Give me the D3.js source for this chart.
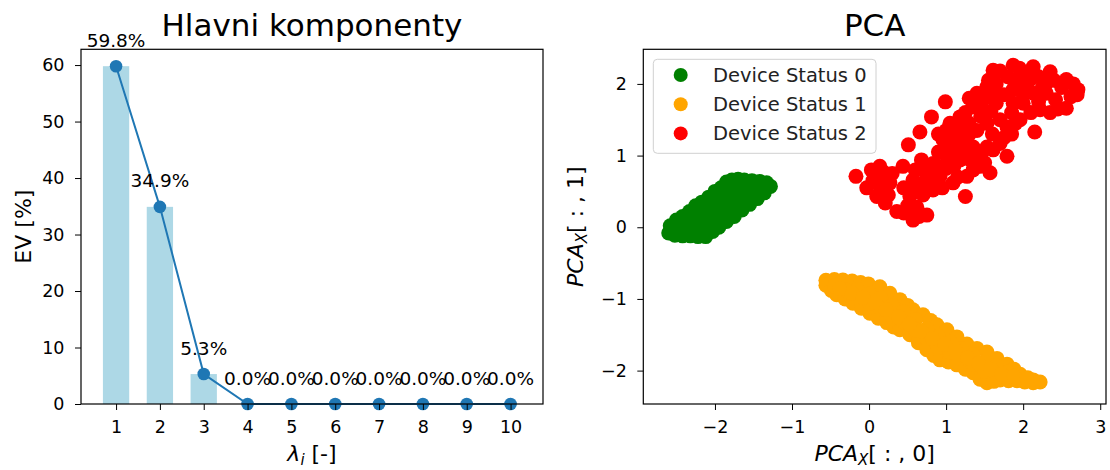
<!DOCTYPE html>
<html>
<head>
<meta charset="utf-8">
<script src="https://cdn.jsdelivr.net/npm/d3@7"></script>
<style>
  body { margin: 0; background: #fff; }
  text { font-family: "DejaVu Sans", sans-serif; fill: #000; }
</style>
</head>
<body>
<div id="container"></div>
<script>
// --- data ---
const components = [1, 2, 3, 4, 5, 6, 7, 8, 9, 10]
const evValues = [59.8, 34.9, 5.3, 0.0, 0.0, 0.0, 0.0, 0.0, 0.0, 0.0]
const evTicks = [0, 10, 20, 30, 40, 50, 60]
const pcaTicksX = [-2, -1, 0, 1, 2, 3]
const pcaTicksY = [-2, -1, 0, 1, 2]
const statusNames = ["Device Status 0", "Device Status 1", "Device Status 2"]
const statusColors = ["green", "orange", "red"]

const status0 = [
	[-2.58, 0.02], [-2.5, 0.1], [-2.42, 0.15], [-2.33, 0.22], [-2.25, 0.3], [-2.17, 0.35], [-2.08, 0.42], [-2.0, 0.5], [-1.92, 0.55], [-1.85, 0.63], [-1.78, 0.66],
	[-1.70, 0.67], [-1.62, 0.66], [-1.52, 0.65], [-1.42, 0.64], [-1.33, 0.62], [-1.28, 0.57],
	[-2.12, -0.13], [-2.03, -0.06], [-1.95, 0.0], [-1.85, 0.08], [-1.75, 0.15], [-1.65, 0.24], [-1.55, 0.32], [-1.45, 0.40], [-1.36, 0.48],
	[-2.60, -0.08], [-2.52, -0.11], [-2.42, -0.12], [-2.32, -0.12], [-2.22, -0.13],
	[-2.45, -0.03], [-2.35, 0.05], [-2.25, 0.12], [-2.15, 0.2], [-2.05, 0.27], [-1.95, 0.34], [-1.85, 0.42], [-1.75, 0.5], [-1.65, 0.57], [-1.55, 0.6],
	[-2.3, -0.08], [-2.2, -0.02], [-2.1, 0.06], [-2.0, 0.14], [-1.9, 0.2], [-1.8, 0.28], [-1.7, 0.36], [-1.6, 0.43], [-1.5, 0.5], [-1.4, 0.55],
]
const status1 = [
	[-0.56, -0.74], [-0.45, -0.73], [-0.34, -0.735], [-0.22, -0.75], [-0.11, -0.77], [-0.01, -0.79], [0.14, -0.83], [0.27, -0.92], [0.40, -1.01], [0.50, -1.09], [0.57, -1.15], [0.70, -1.22], [0.80, -1.30], [0.88, -1.36], [1.01, -1.43], [1.14, -1.53], [1.27, -1.63], [1.40, -1.69], [1.53, -1.74], [1.66, -1.83], [1.79, -1.91], [1.88, -1.98], [1.96, -2.05], [2.06, -2.10], [2.13, -2.13], [2.22, -2.16],
	[-0.56, -0.81], [-0.49, -0.88], [-0.42, -0.94], [-0.31, -1.00], [-0.21, -1.06], [-0.10, -1.13], [0.01, -1.20], [0.12, -1.27], [0.23, -1.33], [0.32, -1.39], [0.40, -1.43], [0.53, -1.50], [0.64, -1.61], [0.75, -1.71], [0.84, -1.79], [0.92, -1.85], [1.03, -1.88], [1.14, -1.92], [1.25, -1.98], [1.35, -2.03], [1.44, -2.12], [1.53, -2.17], [1.62, -2.15], [1.70, -2.13], [1.81, -2.14], [1.92, -2.14], [2.02, -2.16], [2.13, -2.17],
	[-0.45, -0.82], [-0.3, -0.88], [-0.15, -0.87], [-0.15, -0.98], [0, -0.93], [0, -1.06], [0.15, -0.99], [0.15, -1.14], [0.3, -1.09], [0.3, -1.24], [0.45, -1.18], [0.45, -1.32], [0.6, -1.29], [0.6, -1.43], [0.75, -1.41], [0.75, -1.56], [0.9, -1.52], [0.9, -1.68], [1.05, -1.60], [1.05, -1.74], [1.2, -1.70], [1.2, -1.83], [1.35, -1.78], [1.35, -1.91], [1.5, -1.87], [1.5, -2.01], [1.65, -1.93], [1.65, -2.04], [1.8, -2.02], [1.95, -2.09],
	[-0.38, -0.85], [-0.22, -0.92], [-0.08, -0.98], [0.08, -1.05], [0.22, -1.15], [0.38, -1.25], [0.52, -1.35], [0.68, -1.45], [0.82, -1.55], [0.98, -1.63], [1.12, -1.72], [1.28, -1.82], [1.42, -1.90], [1.58, -1.98], [1.72, -2.05], [1.88, -2.08], [2.05, -2.12],
]
const status2 = [
	[-0.17, 0.71], [0.51, 1.15], [0.66, 1.33], [0.81, 1.54], [0.99, 1.75], [1.25, 0.43], [1.79, 0.99], [2.15, 1.33], [2.56, 1.66], [2.71, 1.92], [2.56, 2.06], [2.35, 2.17], [1.61, 2.19], [1.87, 2.26], [2.13, 2.24],
	[1.40, 1.87], [0.96, 1.22], [1.57, 0.76], [0.14, 0.85], [-0.03, 0.55], [0.21, 0.34], [0.36, 0.22], [0.57, 0.10], [0.75, 0.17], [0.44, 0.85], [0.68, 0.94], [0.75, 0.71], [0.92, 0.71], [1.09, 0.62], [0.27, 0.62],
	[0.10, 0.43], [0.53, 0.43], [0.83, 0.52], [1.01, 1.08], [1.18, 0.94], [1.27, 0.71], [1.35, 1.12], [1.53, 1.12], [1.70, 1.17], [1.79, 1.40], [1.96, 1.50], [2.00, 1.73], [1.87, 1.73], [2.13, 1.87], [2.30, 1.87],
	[2.22, 1.64], [2.30, 2.01], [2.09, 2.06], [1.92, 2.01], [1.53, 1.96], [1.35, 1.68], [1.18, 1.54], [1.18, 1.36], [1.09, 1.26], [1.53, 1.45], [1.70, 1.50], [1.65, 1.73], [1.87, 1.92], [1.35, 1.04],
	[1.44, 0.85], [1.61, 1.08], [1.01, 0.99], [0.83, 0.89], [0.57, 0.66], [0.03, 0.80], [0.20, 0.76], [0.62, 0.28], [0.70, 0.45], [1.00, 0.82], [1.25, 1.20], [1.12, 1.10], [1.45, 1.55], [1.58, 1.62],
	[1.75, 1.85], [2.02, 1.95], [1.95, 2.22], [1.70, 2.18], [2.42, 1.78], [2.62, 1.82], [0.90, 1.30], [1.05, 1.45],
	[1.55, 2.05], [1.65, 2.00], [1.80, 2.10], [1.95, 2.10], [2.05, 2.15], [2.20, 2.10], [2.25, 1.95], [2.40, 2.05], [2.50, 1.95], [2.65, 2.00], [2.70, 1.85], [2.20, 1.75], [2.10, 1.60], [2.00, 1.85], [1.85, 1.60],
	[1.50, 1.80], [1.60, 1.90], [1.30, 1.80], [1.25, 1.60], [1.45, 1.70], [2.35, 1.60], [2.45, 1.65],
	[1.00, 1.35], [1.10, 1.40], [1.30, 1.45], [1.40, 1.35], [1.20, 1.25], [1.30, 1.30], [1.60, 1.30], [1.75, 1.25], [1.85, 1.30], [1.90, 1.45], [1.20, 1.05], [1.30, 0.95], [1.45, 1.00], [1.50, 0.90],
	[1.10, 0.85], [0.90, 1.05], [0.85, 0.75], [1.15, 0.70], [1.35, 0.80],
	[0.30, 0.75], [0.45, 0.55], [0.60, 0.50], [0.65, 0.60], [0.80, 0.60], [0.95, 0.55], [0.50, 0.30], [0.45, 0.20], [0.65, 0.15], [0.55, 0.20], [0.05, 0.65], [0.15, 0.55], [0.25, 0.45],
	[0.90, 0.85], [0.75, 0.82], [0.60, 0.80], [0.15, 0.70],
]
const statusData = [status0, status1, status2]

// --- canvas ---
const width = 1110
const height = 470
const svg = d3.select("#container")
	.append("svg")
	.attr("width", width)
	.attr("height", height)

const tickFont = 17.5
const labelFont = 22
const intFmt = d3.format("d")

// --- left: Hlavni komponenty ---
const left = { x0: 81, x1: 543, y0: 49.3, y1: 404 }
const xEV = d3.scaleLinear().domain([0.2, 10.74]).range([left.x0, left.x1])
const yEV = d3.scaleLinear().domain([0, 59.8 * 1.05]).range([left.y1, left.y0])
const barW = xEV(1.3) - xEV(0.7)

const gl = svg.append("g")

gl.selectAll("rect.bar")
	.data(evValues)
	.join("rect")
	.attr("class", "bar")
	.attr("x", (d, i) => xEV(components[i]) - barW / 2)
	.attr("width", barW)
	.attr("y", d => yEV(d))
	.attr("height", d => yEV(0) - yEV(d))
	.attr("fill", "lightblue")

const evLine = d3.line()
	.x((d, i) => xEV(components[i]))
	.y(d => yEV(d))

gl.append("path")
	.datum(evValues)
	.attr("d", evLine)
	.attr("fill", "none")
	.attr("stroke", "#1f77b4")
	.attr("stroke-width", 2)

gl.selectAll("circle.pt")
	.data(evValues)
	.join("circle")
	.attr("class", "pt")
	.attr("cx", (d, i) => xEV(components[i]))
	.attr("cy", d => yEV(d))
	.attr("r", 6.3)
	.attr("fill", "#1f77b4")

gl.selectAll("text.ann")
	.data(evValues)
	.join("text")
	.attr("class", "ann")
	.attr("x", (d, i) => xEV(components[i]))
	.attr("y", d => yEV(d) - 19.5)
	.attr("text-anchor", "middle")
	.style("font-size", "18.5px")
	.text(d => d.toFixed(1) + "%")

// axes
gl.append("g")
	.attr("transform", `translate(0,${left.y1})`)
	.call(d3.axisBottom(xEV).tickValues(components).tickFormat(intFmt).tickSizeOuter(0).tickSize(6).tickPadding(11))
	.call(g => g.select(".domain").remove())
	.call(g => g.selectAll("text").style("font-size", tickFont + "px"))

gl.append("g")
	.attr("transform", `translate(${left.x0},0)`)
	.call(d3.axisLeft(yEV).tickValues(evTicks).tickFormat(intFmt).tickSizeOuter(0).tickSize(6).tickPadding(10.5))
	.call(g => g.select(".domain").remove())
	.call(g => g.selectAll("text").style("font-size", tickFont + "px"))

gl.append("rect")
	.attr("x", left.x0).attr("y", left.y0)
	.attr("width", left.x1 - left.x0).attr("height", left.y1 - left.y0)
	.attr("fill", "none").attr("stroke", "#000").attr("stroke-width", 1.2)

gl.append("text")
	.attr("x", (left.x0 + left.x1) / 2).attr("y", 36)
	.attr("text-anchor", "middle")
	.style("font-size", "31px")
	.text("Hlavni komponenty")

const xlabL = gl.append("text")
	.attr("x", (left.x0 + left.x1) / 2).attr("y", 461)
	.attr("text-anchor", "middle")
	.style("font-size", labelFont + "px")
xlabL.append("tspan").style("font-style", "italic").text("λ")
xlabL.append("tspan").style("font-style", "italic").style("font-size", "15px").attr("dy", 4).text("i")
xlabL.append("tspan").attr("dy", -4).text(" [-]")

gl.append("text")
	.attr("transform", `translate(31,${(left.y0 + left.y1) / 2}) rotate(-90)`)
	.attr("text-anchor", "middle")
	.style("font-size", labelFont + "px")
	.text("EV [%]")

// --- right: PCA ---
const right = { x0: 643.3, x1: 1106, y0: 49.3, y1: 404 }
const xP = d3.scaleLinear().domain([-2.93, 3.075]).range([right.x0, right.x1])
const yP = d3.scaleLinear().domain([-2.466, 2.483]).range([right.y1, right.y0])

const gr = svg.append("g")

statusData.forEach((pts, k) => {
	gr.append("g")
		.selectAll("circle")
		.data(pts)
		.join("circle")
		.attr("cx", d => xP(d[0]))
		.attr("cy", d => yP(d[1]))
		.attr("r", 7.5)
		.attr("fill", statusColors[k])
})

gr.append("g")
	.attr("transform", `translate(0,${right.y1})`)
	.call(d3.axisBottom(xP).tickValues(pcaTicksX).tickFormat(intFmt).tickSizeOuter(0).tickSize(6).tickPadding(11))
	.call(g => g.select(".domain").remove())
	.call(g => g.selectAll("text").style("font-size", tickFont + "px"))

gr.append("g")
	.attr("transform", `translate(${right.x0},0)`)
	.call(d3.axisLeft(yP).tickValues(pcaTicksY).tickFormat(intFmt).tickSizeOuter(0).tickSize(6).tickPadding(10.5))
	.call(g => g.select(".domain").remove())
	.call(g => g.selectAll("text").style("font-size", tickFont + "px"))

gr.append("rect")
	.attr("x", right.x0).attr("y", right.y0)
	.attr("width", right.x1 - right.x0).attr("height", right.y1 - right.y0)
	.attr("fill", "none").attr("stroke", "#000").attr("stroke-width", 1.2)

gr.append("text")
	.attr("x", (right.x0 + right.x1) / 2).attr("y", 36)
	.attr("text-anchor", "middle")
	.style("font-size", "31px")
	.text("PCA")

function pcaLabel(sel, idx) {
	sel.append("tspan").style("font-style", "italic").text("PCA")
	sel.append("tspan").style("font-style", "italic").style("font-size", "15px").attr("dy", 4).text("X")
	sel.append("tspan").attr("dy", -4).text("[ : , " + idx + "]")
}

gr.append("text")
	.attr("x", (right.x0 + right.x1) / 2).attr("y", 461)
	.attr("text-anchor", "middle")
	.style("font-size", labelFont + "px")
	.call(pcaLabel, 0)

gr.append("text")
	.attr("transform", `translate(583,${(right.y0 + right.y1) / 2}) rotate(-90)`)
	.attr("text-anchor", "middle")
	.style("font-size", labelFont + "px")
	.call(pcaLabel, 1)

// legend
const legend = gr.append("g")
legend.append("rect")
	.attr("x", 653.3).attr("y", 59.3)
	.attr("width", 222.7).attr("height", 94)
	.attr("rx", 4)
	.attr("fill", "#fff").attr("fill-opacity", 0.8)
	.attr("stroke", "#d0d0d0")

statusNames.forEach((name, k) => {
	const ly = 75 + k * 29.2
	legend.append("circle")
		.attr("cx", 680.7).attr("cy", ly).attr("r", 7)
		.attr("fill", statusColors[k])
	legend.append("text")
		.attr("x", 713).attr("y", ly + 6.8)
		.style("font-size", "19.5px")
		.style("fill", "#222")
		.text(name)
})
</script>
</body>
</html>
